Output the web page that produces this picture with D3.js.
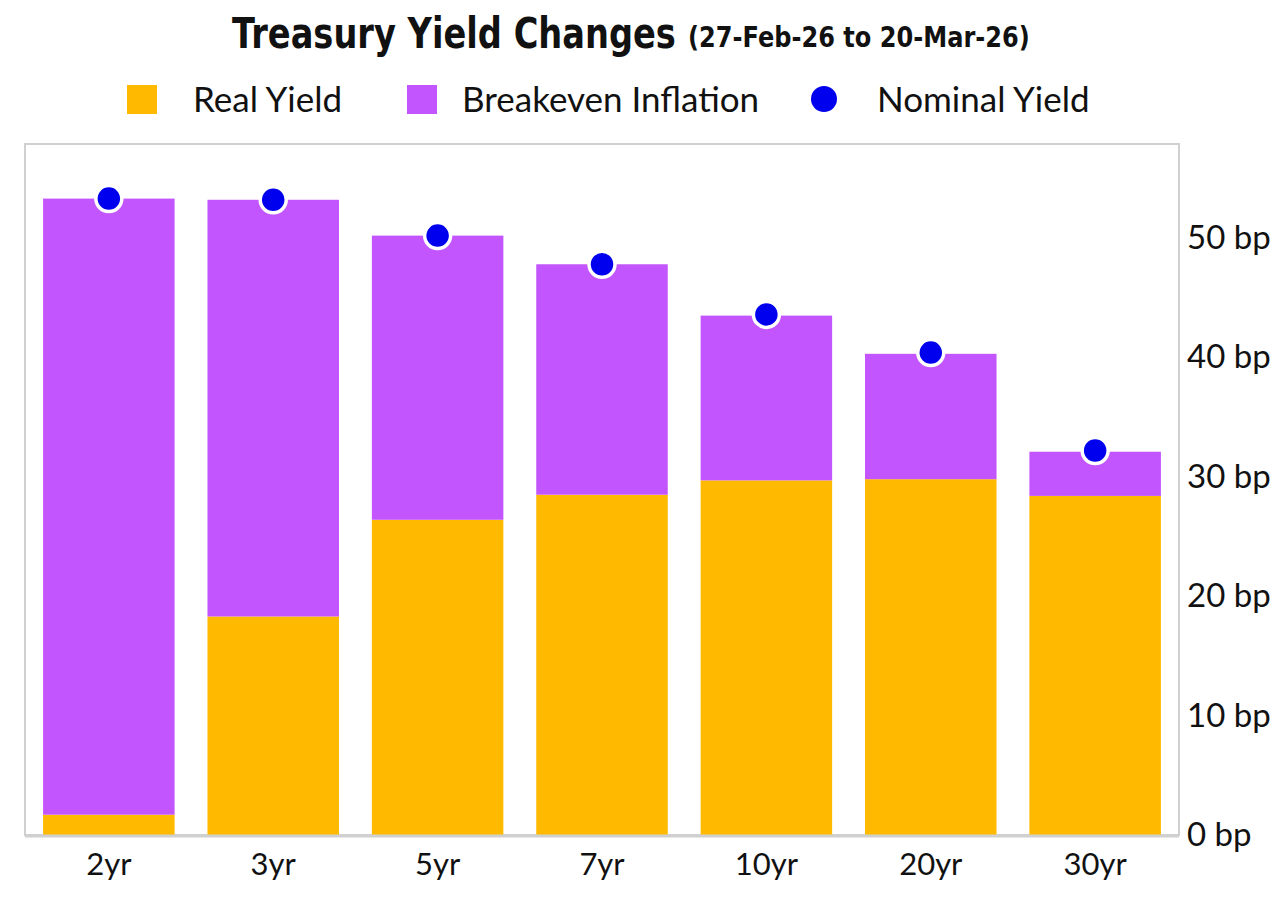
<!DOCTYPE html>
<html><head><meta charset="utf-8">
<script src="https://cdn.jsdelivr.net/npm/d3@7"></script>
<style>body{margin:0;background:#fff;} svg{display:block;}</style>
</head><body>
<svg id="c" width="1280" height="909"></svg>
<script>
const categories = ["2yr","3yr","5yr","7yr","10yr","20yr","30yr"];
const realYield = [1.7, 18.3, 26.4, 28.5, 29.7, 29.8, 28.4];
const breakeven = [51.6, 34.9, 23.8, 19.3, 13.8, 10.5, 3.7];
const nominal = [53.3, 53.2, 50.2, 47.8, 43.6, 40.4, 32.2];
const yTicks = [0,10,20,30,40,50];

const colors = {real:"#FFBA00", be:"#C355FF", nom:"#0000EE"};
const svg = d3.select("#c");
const L=25, R=1179, T=144, B=835;
const x = d3.scaleBand().domain(categories).range([L,R]).paddingInner(0.2).paddingOuter(0.11);
const y = d3.scaleLinear().domain([0,10]).range([B, B-119.4]);

svg.append("rect").attr("x",L).attr("y",T).attr("width",R-L).attr("height",B-T)
  .attr("fill","none").attr("stroke","#d0d0d0").attr("stroke-width",2);

const g = svg.append("g");
g.selectAll(".real").data(categories).join("rect")
  .attr("x",d=>x(d)).attr("width",x.bandwidth())
  .attr("y",(d,i)=>y(realYield[i])).attr("height",(d,i)=>y(0)-y(realYield[i]))
  .attr("fill",colors.real);
g.selectAll(".be").data(categories).join("rect")
  .attr("x",d=>x(d)).attr("width",x.bandwidth())
  .attr("y",(d,i)=>y(realYield[i]+breakeven[i])).attr("height",(d,i)=>y(realYield[i])-y(realYield[i]+breakeven[i]))
  .attr("fill",colors.be);
svg.append("line").attr("x1",L).attr("x2",R).attr("y1",B+1).attr("y2",B+1).attr("stroke","#d0d0d0").attr("stroke-width",3);

g.selectAll(".dot").data(categories).join("circle")
  .attr("cx",d=>x(d)+x.bandwidth()/2).attr("cy",(d,i)=>y(nominal[i]))
  .attr("r",13).attr("fill",colors.nom).attr("stroke","#fff").attr("stroke-width",3.5);

const font = "Lato, 'Noto Sans', sans-serif";
const ya = svg.append("g").attr("transform",`translate(${R},0)`)
  .call(d3.axisRight(y).tickValues(yTicks).tickSize(0).tickPadding(8).tickFormat(d=>d+" bp"));
ya.select(".domain").remove();
ya.selectAll("text").attr("font-family",font).attr("font-size",33).attr("fill","#111");

const xa = svg.append("g").attr("transform",`translate(0,${B})`)
  .call(d3.axisBottom(x).tickSize(0).tickPadding(18));
xa.select(".domain").remove();
xa.selectAll("text").attr("font-family",font).attr("font-size",31).attr("fill","#111");

const tf = "'DejaVu Sans',sans-serif";
function fitText(str, size, x0, y0, width){
  const grp = svg.append("g");
  const tx = grp.append("text").attr("font-family",tf).attr("font-weight","bold")
    .attr("font-size",size).attr("fill","#111").text(str);
  const s = width / tx.node().getComputedTextLength();
  grp.attr("transform",`translate(${x0},${y0}) scale(${s},1)`);
}
fitText("Treasury Yield Changes", 42, 232, 48, 444);
fitText("(27-Feb-26 to 20-Mar-26)", 29, 688, 47, 342);

const leg = svg.append("g").attr("font-family",font).attr("font-size",35).attr("fill","#111");
leg.append("rect").attr("x",127).attr("y",85).attr("width",30).attr("height",29).attr("fill",colors.real);
leg.append("text").attr("x",193).attr("y",112).text("Real Yield");
leg.append("rect").attr("x",407).attr("y",85).attr("width",30).attr("height",29).attr("fill",colors.be);
leg.append("text").attr("x",462).attr("y",112).text("Breakeven Inflation");
leg.append("circle").attr("cx",824).attr("cy",99).attr("r",13).attr("fill",colors.nom);
leg.append("text").attr("x",877).attr("y",112).text("Nominal Yield");
</script>
</body></html>
